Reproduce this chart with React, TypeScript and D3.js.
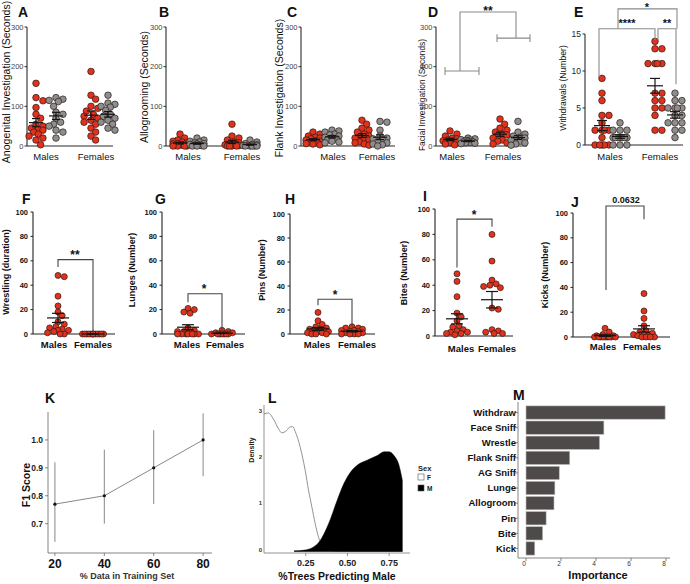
import React from 'react';
import * as d3 from 'd3';

const FONT = "'Liberation Sans', Arial, Helvetica, sans-serif";
const RED = '#e2321d';
const GREY = '#8e8e8e';

// ---------- categories ----------
const sexes = ['Males', 'Females'];

// ---------- A: Anogenital investigation (s) ----------
const agMaleRes = [158, 122, 114, 97, 80, 70, 55, 50, 45, 42, 40, 35, 30, 25, 20, 15, 3];
const agMaleInt = [122, 118, 115, 112, 100, 85, 80, 70, 60, 55, 50, 40, 35, 20];
const agFemRes = [188, 128, 118, 100, 95, 88, 80, 75, 70, 65, 60, 55, 45, 35, 25, 15];
const agFemInt = [128, 108, 105, 100, 98, 90, 80, 75, 70, 65, 60, 55, 45, 40];
// ---------- B: Allogrooming (s) ----------
const alMaleRes = [30, 20, 15, 12, 10, 8, 6, 5, 4, 3, 2, 1, 0, 0, 0, 0];
const alMaleInt = [20, 15, 12, 10, 8, 6, 5, 4, 3, 2, 1, 0, 0, 0];
const alFemRes = [55, 25, 20, 15, 10, 8, 5, 3, 2, 1, 0, 0, 0, 0];
const alFemInt = [15, 10, 6, 4, 3, 2, 1, 0, 0, 0, 0, 0];
// ---------- C: Flank investigation (s) ----------
const flMaleRes = [35, 30, 25, 22, 20, 18, 15, 13, 12, 10, 8, 6, 5, 3];
const flMaleInt = [40, 38, 35, 30, 28, 25, 22, 20, 18, 15, 12, 10, 8];
const flFemRes = [65, 55, 45, 40, 35, 30, 25, 22, 20, 18, 15, 10, 8, 5, 2];
const flFemInt = [62, 60, 40, 25, 20, 18, 15, 10, 8, 5, 3, 0];
// ---------- D: Facial investigation (s) ----------
const faMaleRes = [38, 30, 25, 20, 18, 15, 13, 12, 10, 8, 5, 3];
const faMaleInt = [20, 18, 16, 15, 14, 12, 11, 10, 9, 8, 7, 6];
const faFemRes = [68, 55, 45, 40, 35, 30, 28, 25, 20, 15, 12, 8, 5];
const faFemInt = [62, 35, 30, 25, 22, 20, 18, 15, 12, 8, 5, 2];
// ---------- E: Withdrawals (number) ----------
const wdMaleRes = [9, 7, 6, 4, 4, 3, 2, 2, 2, 2, 1, 0, 0, 0, 0, 0];
const wdMaleInt = [3, 2, 2, 2, 1, 1, 1, 1, 1, 1, 1, 0, 0, 0];
const wdFemRes = [14, 13, 13, 11, 11, 11, 11, 7, 7, 6, 6, 5, 5, 4, 2, 2];
const wdFemInt = [7, 6, 6, 5, 5, 5, 5, 4, 4, 3, 3, 3, 2, 2, 1];
// ---------- F-J: aggression (residents) ----------
const wrestleMale = [48, 47, 31, 23, 18, 15, 10, 8, 6, 5, 4, 3, 3, 2, 1, 0, 0];
const wrestleFem = [0, 0, 0, 0, 0, 0, 0, 0, 0, 0, 0, 0, 0];
const lungeMale = [21, 20, 18, 17, 5, 3, 2, 2, 1, 0, 0, 0, 0, 0, 0, 0];
const lungeFem = [3, 2, 1, 1, 0, 0, 0, 0, 0, 0, 0];
const pinMale = [18, 11, 8, 6, 5, 4, 4, 3, 3, 2, 2, 1, 1, 0, 0, 0];
const pinFem = [6, 5, 5, 4, 3, 3, 2, 2, 1, 1, 0, 0, 0, 0];
const biteMale = [49, 43, 31, 18, 15, 12, 8, 7, 5, 4, 3, 3, 2, 2, 1];
const biteFem = [80, 59, 44, 41, 40, 39, 38, 22, 21, 5, 4, 3, 2, 2];
const kickMale = [7, 4, 2, 1, 1, 0, 0, 0, 0, 0, 0, 0, 0, 0];
const kickFem = [35, 21, 15, 9, 5, 4, 3, 2, 2, 1, 1, 0, 0, 0, 0];
// ---------- K ----------
const trainPct = [20, 40, 60, 80];
const f1Score = [0.77, 0.8, 0.9, 1.0];
const f1Low = [0.635, 0.7, 0.77, 0.87];
const f1High = [0.92, 0.965, 1.035, 1.095];
// ---------- L ----------
const densFx = [0, 0.026, 0.056, 0.09, 0.106, 0.136, 0.157, 0.173, 0.187, 0.217, 0.247, 0.267, 0.287, 0.307, 0.327, 0.347, 0.377, 0.42, 0.5, 0.83];
const densFy = [2.96, 2.98, 2.85, 2.62, 2.55, 2.6, 2.68, 2.68, 2.58, 2.24, 1.74, 1.31, 0.95, 0.59, 0.3, 0.12, 0.03, 0.005, 0, 0];
const densMx = [0.18, 0.237, 0.287, 0.337, 0.387, 0.438, 0.478, 0.518, 0.558, 0.618, 0.679, 0.719, 0.749, 0.779, 0.809, 0.829];
const densMy = [0, 0.02, 0.07, 0.23, 0.59, 1.09, 1.45, 1.7, 1.85, 1.96, 2.06, 2.14, 2.14, 2.06, 1.85, 1.53];
const legendSex = ['F', 'M'];
// ---------- M ----------
const features = ['Withdraw', 'Face Sniff', 'Wrestle', 'Flank Sniff', 'AG Sniff', 'Lunge', 'Allogroom', 'Pin', 'Bite', 'Kick'];
const importance = [7.95, 4.45, 4.2, 2.5, 1.9, 1.65, 1.6, 1.15, 0.95, 0.5];

// ---------- helpers ----------
function swarm(values: number[], ys: (v: number) => number, cx: number, r: number, half: number) {
  const pts: { x: number; y: number }[] = [];
  const sorted = [...values].sort((a, b) => b - a);
  const step = r * 0.7;
  const offs: number[] = [0];
  for (let k = 1; k * step <= half + 0.01; k++) offs.push(k * step, -k * step);
  for (const v of sorted) {
    const y = ys(v);
    let best = cx;
    let bestD = -1;
    for (const o of offs) {
      const x = cx + o;
      let d = Infinity;
      for (const p of pts) d = Math.min(d, Math.hypot(p.x - x, p.y - y));
      if (d >= 1.75 * r) { best = x; bestD = Infinity; break; }
      if (d > bestD + 0.3) { bestD = d; best = x; }
    }
    pts.push({ x: best, y });
  }
  return pts;
}

type Group = { values: number[]; color: string; cx: number };
type Bracket = [number, number][];
type Star = { text: string; x: number; v: number; size: number };
type PanelCfg = {
  letter: string; lx: number; ly: number;
  ax: number; y0: number; y1: number; max: number; ticks: number[]; xEnd: number;
  groups: Group[]; cats: { text: string; x: number }[]; catY: number; catSize: number; catWeight: string;
  ylabel: string; ylx: number; yly: number; ylSize: number; ylWeight: string;
  tickSize: number; tickColor: string; tickWeight: string; tickGap: number;
  r: number; half: number; meanW: number; capW: number; lineColor: string;
  brackets: Bracket[]; bracketColor: string; stars: Star[];
};

function DotPanel({ c }: { c: PanelCfg }) {
  const y = d3.scaleLinear().domain([0, c.max]).range([c.y0, c.y1]);
  return (
    <g>
      <text x={c.lx} y={c.ly} fontSize={14} fontWeight="bold" fill="#111">{c.letter}</text>
      <line x1={c.ax} x2={c.ax} y1={c.y0} y2={c.y1} stroke={c.lineColor} strokeWidth={1.1} />
      <line x1={c.ax} x2={c.xEnd} y1={c.y0} y2={c.y0} stroke={c.lineColor} strokeWidth={1.1} />
      {c.ticks.map(t => (
        <g key={t}>
          <line x1={c.ax - 2.5} x2={c.ax} y1={y(t)} y2={y(t)} stroke={c.lineColor} strokeWidth={1} />
          <text x={c.ax - c.tickGap} y={y(t)} dy="0.35em" textAnchor="end" fontSize={c.tickSize} fill={c.tickColor} fontWeight={c.tickWeight}>{t}</text>
        </g>
      ))}
      {c.cats.map(k => (
        <text key={k.text} x={k.x} y={c.catY} textAnchor="middle" fontSize={c.catSize} fontWeight={c.catWeight} fill="#111">{k.text}</text>
      ))}
      <text transform={`translate(${c.ylx},${c.yly}) rotate(-90)`} textAnchor="middle" fontSize={c.ylSize} fontWeight={c.ylWeight} fill="#111">{c.ylabel}</text>
      {c.groups.map((g, gi) => (
        <g key={gi}>
          {swarm(g.values, y, g.cx, c.r, c.half).map((p, i) => (
            <circle key={i} cx={p.x} cy={p.y} r={c.r} fill={g.color} stroke="#2a1a14" strokeWidth={0.7} />
          ))}
        </g>
      ))}
      {c.groups.map((g, gi) => {
        const m = d3.mean(g.values) as number;
        const sd = d3.deviation(g.values) || 0;
        const se = sd / Math.sqrt(g.values.length);
        return (
          <g key={'m' + gi} stroke="#151515" strokeWidth={1.2}>
            <line x1={g.cx - c.meanW / 2} x2={g.cx + c.meanW / 2} y1={y(m)} y2={y(m)} />
            <line x1={g.cx} x2={g.cx} y1={y(Math.max(0, m - se))} y2={y(m + se)} />
            <line x1={g.cx - c.capW / 2} x2={g.cx + c.capW / 2} y1={y(m + se)} y2={y(m + se)} />
            <line x1={g.cx - c.capW / 2} x2={g.cx + c.capW / 2} y1={y(Math.max(0, m - se))} y2={y(Math.max(0, m - se))} />
          </g>
        );
      })}
      {c.brackets.map((b, i) => (
        <polyline key={'b' + i} points={b.map(([px, v]) => `${px},${y(v)}`).join(' ')} fill="none" stroke={c.bracketColor} strokeWidth={1.1} />
      ))}
      {c.stars.map((s, i) => (
        <text key={'s' + i} x={s.x} y={y(s.v)} textAnchor="middle" fontSize={s.size} fontWeight="bold" fill="#111">{s.text}</text>
      ))}
    </g>
  );
}

const topCommon = {
  catSize: 9.5, catWeight: 'normal', ylWeight: 'normal', tickSize: 7.5, tickColor: '#444', tickWeight: 'normal', tickGap: 3.5,
  r: 3.3, half: 8, meanW: 14, capW: 8, lineColor: '#2a2a2a', bracketColor: '#8a8a8a', ly: 17, catY: 160,
};
const botCommon = {
  catSize: 9.5, catWeight: 'bold', ylWeight: 'bold', ylSize: 9, tickSize: 7.5, tickColor: '#111', tickWeight: 'bold', tickGap: 5,
  r: 3, half: 11, meanW: 22, capW: 12, lineColor: '#222', bracketColor: '#444', ticks: [0, 20, 40, 60, 80, 100], max: 100,
};

const panels: PanelCfg[] = [
  {
    ...topCommon, letter: 'A', lx: 18, ax: 27, y0: 146, y1: 27, max: 300, ticks: [0, 100, 200, 300], xEnd: 113,
    groups: [
      { values: agMaleRes, color: RED, cx: 36 }, { values: agMaleInt, color: GREY, cx: 56 },
      { values: agFemRes, color: RED, cx: 91 }, { values: agFemInt, color: GREY, cx: 108 },
    ],
    cats: [{ text: sexes[0], x: 46 }, { text: sexes[1], x: 96 }],
    ylabel: 'Anogenital Investigation (Seconds)', ylx: 9.5, yly: 82, ylSize: 10.5, brackets: [], stars: [],
  },
  {
    ...topCommon, letter: 'B', lx: 159, ax: 166, y0: 146, y1: 27, max: 300, ticks: [0, 100, 200, 300], xEnd: 258,
    groups: [
      { values: alMaleRes, color: RED, cx: 180 }, { values: alMaleInt, color: GREY, cx: 197 },
      { values: alFemRes, color: RED, cx: 232 }, { values: alFemInt, color: GREY, cx: 250 },
    ],
    cats: [{ text: sexes[0], x: 188 }, { text: sexes[1], x: 242 }],
    ylabel: 'Allogrooming (Seconds)', ylx: 148, yly: 87, ylSize: 10.5, brackets: [], stars: [],
  },
  {
    ...topCommon, letter: 'C', lx: 287, ax: 301, y0: 146, y1: 27, max: 300, ticks: [0, 100, 200, 300], xEnd: 395,
    groups: [
      { values: flMaleRes, color: RED, cx: 313 }, { values: flMaleInt, color: GREY, cx: 332 },
      { values: flFemRes, color: RED, cx: 362 }, { values: flFemInt, color: GREY, cx: 380 },
    ],
    cats: [{ text: sexes[0], x: 333 }, { text: sexes[1], x: 377 }],
    ylabel: 'Flank Investigation (Seconds)', ylx: 282.5, yly: 88, ylSize: 10.5, brackets: [], stars: [],
  },
  {
    ...topCommon, letter: 'D', lx: 428, ax: 436, y0: 146, y1: 27, max: 300, ticks: [0, 100, 200, 300], xEnd: 527,
    groups: [
      { values: faMaleRes, color: RED, cx: 450 }, { values: faMaleInt, color: GREY, cx: 468 },
      { values: faFemRes, color: RED, cx: 500 }, { values: faFemInt, color: GREY, cx: 518 },
    ],
    cats: [{ text: sexes[0], x: 452 }, { text: sexes[1], x: 503 }],
    ylabel: 'Facial Investigation (Seconds)', ylx: 425, yly: 95, ylSize: 8.4,
    brackets: [
      [[460, 189], [460, 338], [516, 338], [516, 272]],
      [[445, 189], [479, 189]], [[445, 179], [445, 199]], [[479, 179], [479, 199]],
      [[497, 272], [530, 272]], [[497, 262], [497, 282]], [[530, 262], [530, 282]],
    ],
    stars: [{ text: '**', x: 488, v: 330, size: 12 }],
  },
  {
    ...topCommon, letter: 'E', lx: 574, ax: 585, y0: 145, y1: 34, max: 15, ticks: [0, 5, 10, 15], xEnd: 683,
    tickSize: 8.5, tickColor: '#222', half: 10, tickGap: 4,
    groups: [
      { values: wdMaleRes, color: RED, cx: 602 }, { values: wdMaleInt, color: GREY, cx: 620 },
      { values: wdFemRes, color: RED, cx: 655 }, { values: wdFemInt, color: GREY, cx: 675 },
    ],
    cats: [{ text: sexes[0], x: 610 }, { text: sexes[1], x: 660 }],
    ylabel: 'Withdrawals (Number)', ylx: 566, yly: 88, ylSize: 8.6, meanW: 16, capW: 10,
    brackets: [
      [[618, 15.7], [618, 18.4], [677, 18.4], [677, 15.7]],
      [[599, 9.2], [599, 15.7], [655, 15.7], [655, 14.2]],
      [[658, 14.2], [658, 15.7], [676, 15.7], [676, 8.2]],
    ],
    stars: [
      { text: '*', x: 647, v: 18.1, size: 11 },
      { text: '****', x: 627, v: 15.9, size: 11 },
      { text: '**', x: 667, v: 15.9, size: 11 },
    ],
  },
  {
    ...botCommon, letter: 'F', lx: 22, ly: 204, ax: 33, y0: 334, y1: 212, xEnd: 115,
    groups: [{ values: wrestleMale, color: RED, cx: 58 }, { values: wrestleFem, color: RED, cx: 93 }],
    cats: [{ text: sexes[0], x: 54 }, { text: sexes[1], x: 93 }], catY: 348,
    ylabel: 'Wrestling (duration)', ylx: 9, yly: 272,
    brackets: [[[58, 55], [58, 61], [93, 61], [93, 1]]],
    stars: [{ text: '**', x: 75, v: 61.5, size: 12 }],
  },
  {
    ...botCommon, letter: 'G', lx: 155, ly: 204, ax: 162, y0: 334, y1: 212, xEnd: 245,
    groups: [{ values: lungeMale, color: RED, cx: 188 }, { values: lungeFem, color: RED, cx: 222 }],
    cats: [{ text: sexes[0], x: 187 }, { text: sexes[1], x: 225 }], catY: 348,
    ylabel: 'Lunges (Number)', ylx: 135, yly: 270,
    brackets: [[[188, 26], [188, 33], [222, 33], [222, 2]]],
    stars: [{ text: '*', x: 204, v: 33.5, size: 12 }],
  },
  {
    ...botCommon, letter: 'H', lx: 285, ly: 204, ax: 290, y0: 334, y1: 214, xEnd: 375,
    groups: [{ values: pinMale, color: RED, cx: 318 }, { values: pinFem, color: RED, cx: 352 }],
    cats: [{ text: sexes[0], x: 317 }, { text: sexes[1], x: 357 }], catY: 348,
    ylabel: 'Pins (Number)', ylx: 265, yly: 270,
    brackets: [[[318, 24], [318, 29], [352, 29], [352, 6]]],
    stars: [{ text: '*', x: 335, v: 29.5, size: 12 }],
  },
  {
    ...botCommon, letter: 'I', lx: 423, ly: 201, ax: 435, y0: 336, y1: 209, xEnd: 513,
    groups: [{ values: biteMale, color: RED, cx: 457 }, { values: biteFem, color: RED, cx: 492 }],
    cats: [{ text: sexes[0], x: 461 }, { text: sexes[1], x: 497 }], catY: 352,
    ylabel: 'Bites (Number)', ylx: 407, yly: 273,
    brackets: [[[457, 54], [457, 92], [492, 92], [492, 86]]],
    stars: [{ text: '*', x: 474, v: 92.5, size: 12 }],
  },
  {
    ...botCommon, letter: 'J', lx: 571, ly: 207, ax: 573, y0: 337, y1: 213, xEnd: 670,
    groups: [{ values: kickMale, color: RED, cx: 605 }, { values: kickFem, color: RED, cx: 644 }],
    cats: [{ text: sexes[0], x: 603 }, { text: sexes[1], x: 642 }], catY: 350,
    ylabel: 'Kicks (Number)', ylx: 548, yly: 275,
    brackets: [[[606, 38], [606, 105.6], [644, 105.6], [644, 95]]],
    stars: [{ text: '0.0632', x: 626, v: 108, size: 9 }],
  },
];

function PanelK() {
  const x = d3.scaleLinear().domain([17.2, 83.6]).range([48, 212]);
  const y = d3.scaleLinear().domain([0.595, 1.1]).range([553, 412]);
  const line = d3.line<number>().x((_, i) => x(trainPct[i])).y(d => y(d));
  return (
    <g>
      <text x={45} y={403} fontSize={14} fontWeight="bold" fill="#111">K</text>
      <line x1={48} x2={48} y1={412} y2={553} stroke="#666" strokeWidth={0.8} />
      <line x1={48} x2={212} y1={553} y2={553} stroke="#666" strokeWidth={0.8} />
      {[0.7, 0.8, 0.9, 1.0].map(t => (
        <g key={t}>
          <line x1={45} x2={48} y1={y(t)} y2={y(t)} stroke="#666" strokeWidth={0.8} />
          <text x={43} y={y(t)} dy="0.35em" textAnchor="end" fontSize={8.5} fontWeight="bold" fill="#222">{t.toFixed(1)}</text>
        </g>
      ))}
      {trainPct.map(t => (
        <g key={t}>
          <line x1={x(t)} x2={x(t)} y1={553} y2={556} stroke="#666" strokeWidth={0.8} />
          <text x={x(t)} y={568} textAnchor="middle" fontSize={12} fontWeight="bold" fill="#111">{t}</text>
        </g>
      ))}
      <text x={127} y={579} textAnchor="middle" fontSize={9} fontWeight="bold" fill="#333">% Data in Training Set</text>
      <text transform="translate(30,485) rotate(-90)" textAnchor="middle" fontSize={10.5} fontWeight="bold" fill="#111">F1 Score</text>
      {trainPct.map((t, i) => (
        <line key={t} x1={x(t)} x2={x(t)} y1={y(f1Low[i])} y2={y(f1High[i])} stroke="#888" strokeWidth={1} />
      ))}
      <path d={line(f1Score) || ''} fill="none" stroke="#888" strokeWidth={1} />
      {trainPct.map((t, i) => (
        <circle key={t} cx={x(t)} cy={y(f1Score[i])} r={1.6} fill="#111" />
      ))}
    </g>
  );
}

function PanelL() {
  const x = d3.scaleLinear().domain([0, 0.875]).range([264, 410]);
  const y = d3.scaleLinear().domain([-0.04, 3.15]).range([553, 405]);
  const area = d3.area<[number, number]>().x(d => x(d[0])).y0(y(0)).y1(d => y(d[1])).curve(d3.curveMonotoneX);
  const top = d3.line<[number, number]>().x(d => x(d[0])).y(d => y(d[1])).curve(d3.curveMonotoneX);
  const fPts: [number, number][] = densFx.map((v, i) => [v, densFy[i]]);
  const mPts: [number, number][] = densMx.map((v, i) => [v, densMy[i]]);
  const mArea = (area(mPts) || '');
  return (
    <g>
      <text x={268} y={403} fontSize={14} fontWeight="bold" fill="#111">L</text>
      <path d={area(fPts) || ''} fill="#fff" stroke="none" />
      <path d={top(fPts) || ''} fill="none" stroke="#777" strokeWidth={0.8} />
      <path d={mArea + `L${x(densMx[densMx.length - 1])},${y(0)}Z`} fill="#000" stroke="#000" strokeWidth={0.5} />
      <line x1={264} x2={264} y1={405} y2={553} stroke="#777" strokeWidth={0.8} />
      <line x1={264} x2={410} y1={553} y2={553} stroke="#777" strokeWidth={0.8} />
      {[0, 1, 2, 3].map(t => (
        <text key={t} x={262} y={y(t)} dy="0.1em" textAnchor="end" fontSize={6} fontWeight="bold" fill="#333">{t}</text>
      ))}
      {[0.25, 0.5, 0.75].map(t => (
        <g key={t}>
          <line x1={x(t)} x2={x(t)} y1={553} y2={556} stroke="#777" strokeWidth={0.8} />
          <text x={x(t)} y={566} textAnchor="middle" fontSize={9} fontWeight="bold" fill="#222">{t.toFixed(2)}</text>
        </g>
      ))}
      <text x={337} y={580} textAnchor="middle" fontSize={10.5} fontWeight="bold" fill="#111">%Trees Predicting Male</text>
      <text transform="translate(254,450) rotate(-90)" textAnchor="middle" fontSize={7} fontWeight="bold" fill="#222">Density</text>
      <text x={418} y={471} fontSize={7.5} fontWeight="bold" fill="#222">Sex</text>
      {legendSex.map((s, i) => (
        <g key={s}>
          <rect x={418} y={474 + i * 11} width={6} height={6} fill={i === 0 ? '#fff' : '#000'} stroke="#555" strokeWidth={0.6} />
          <text x={427} y={480 + i * 11} fontSize={6.5} fontWeight="bold" fill="#222">{s}</text>
        </g>
      ))}
    </g>
  );
}

function PanelM() {
  const x = d3.scaleLinear().domain([0, 8]).range([526, 666]);
  const y = d3.scaleBand<string>().domain(features).range([405, 556]).paddingInner(0.12).paddingOuter(0.06);
  return (
    <g>
      <text x={513} y={400} fontSize={14} fontWeight="bold" fill="#111">M</text>
      {features.map((f, i) => (
        <rect key={f} x={x(0)} y={y(f)} width={x(importance[i]) - x(0)} height={y.bandwidth()} fill="#4f4a4a" stroke="#bbb" strokeWidth={0.6} />
      ))}
      <line x1={518} x2={518} y1={402} y2={558} stroke="#666" strokeWidth={0.8} />
      <line x1={518} x2={670} y1={558} y2={558} stroke="#666" strokeWidth={0.8} />
      {features.map(f => (
        <g key={f}>
          <line x1={515} x2={518} y1={(y(f) as number) + y.bandwidth() / 2} y2={(y(f) as number) + y.bandwidth() / 2} stroke="#666" strokeWidth={0.8} />
          <text x={516} y={(y(f) as number) + y.bandwidth() / 2} dy="0.35em" textAnchor="end" fontSize={9.5} fontWeight="bold" fill="#111">{f}</text>
        </g>
      ))}
      {[0, 2, 4, 6, 8].map(t => (
        <g key={t}>
          <line x1={x(t)} x2={x(t)} y1={558} y2={561} stroke="#666" strokeWidth={0.8} />
          <text x={x(t) - 2} y={566} textAnchor="middle" fontSize={6.5} fill="#333">{t}</text>
        </g>
      ))}
      <text x={598} y={579} textAnchor="middle" fontSize={11} fontWeight="bold" fill="#111">Importance</text>
    </g>
  );
}

export default function App() {
  return (
    <svg width={690} height={584} style={{ position: 'absolute', left: 0, top: 0, background: '#fff', fontFamily: FONT }}>
      <rect x={0} y={0} width={690} height={584} fill="#fff" />
      {panels.map(p => <DotPanel key={p.letter} c={p} />)}
      <PanelK />
      <PanelL />
      <PanelM />
    </svg>
  );
}
